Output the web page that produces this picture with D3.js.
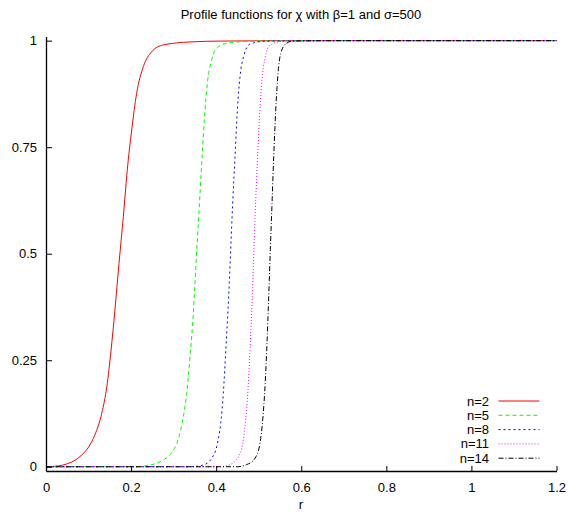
<!DOCTYPE html>
<html>
<head>
<meta charset="utf-8">
<script src="https://cdn.jsdelivr.net/npm/d3@7"></script>
<style>
  html, body { margin: 0; padding: 0; background: #fff; }
  svg { display: block; }
  text { font-family: "Liberation Sans", Arial, Helvetica, sans-serif; font-size: 13px; fill: #000; }
</style>
</head>
<body>
<svg id="chart" width="571" height="512"></svg>
<script>
// ---- data ----
const title = "Profile functions for \u03c7 with \u03b2=1 and \u03c3=500";
const xLabel = "r";
const xTicks = [0, 0.2, 0.4, 0.6, 0.8, 1, 1.2];
const yTicks = [0, 0.25, 0.5, 0.75, 1];
const seriesNames = ["n=2", "n=5", "n=8", "n=11", "n=14"];
const seriesColors = ["#ff0000", "#00ff00", "#0000ff", "#ff00ff", "#000000"];
const seriesDash = ["none", "4,3", "2,3", "1,2", "5,2,1,2"];

const n2 = [[0,0],[0.02,0.001],[0.04,0.004],[0.06,0.011],[0.08,0.024],[0.1,0.046],[0.115,0.075],[0.131,0.125],[0.143,0.188],
  [0.153,0.274],[0.162,0.368],[0.1716,0.477],[0.1818,0.587],[0.191,0.696],[0.2014,0.79],[0.213,0.876],
  [0.2288,0.939],[0.2484,0.974],[0.2758,0.99],[0.3385,0.997],[0.41,0.999],[0.6,1],[1.2,1]];
const n5 = [[0,0],[0.21,0],[0.2445,0.004],[0.2758,0.016],[0.2955,0.033],[0.311,0.065],[0.3228,0.117],
  [0.3307,0.172],[0.3385,0.258],[0.3463,0.36],[0.3526,0.477],[0.359,0.587],[0.366,0.712],[0.3722,0.814],
  [0.3793,0.9],[0.3895,0.955],[0.405,0.986],[0.4325,0.995],[0.495,0.999],[0.65,1],[1.2,1]];
const n8 = [[0,0],[0.34,0],[0.3698,0.004],[0.3895,0.02],[0.4012,0.047],[0.4106,0.102],[0.4168,0.172],
  [0.4231,0.282],[0.4294,0.399],[0.4341,0.509],[0.4388,0.618],[0.4443,0.728],[0.4498,0.837],[0.456,0.915],
  [0.4654,0.966],[0.4795,0.992],[0.518,0.999],[0.65,1],[1.2,1]];
const n11 = [[0,0],[0.41,0],[0.4325,0.005],[0.452,0.023],[0.4624,0.055],[0.4694,0.11],[0.4748,0.18],
  [0.4795,0.274],[0.4843,0.383],[0.4882,0.493],[0.492,0.602],[0.4968,0.712],[0.5015,0.814],[0.507,0.9],
  [0.5148,0.959],[0.5266,0.99],[0.562,0.999],[0.7,1],[1.2,1]];
const n14 = [[0,0],[0.45,0],[0.4718,0.005],[0.4913,0.02],[0.503,0.055],[0.5094,0.11],[0.5148,0.188],
  [0.5195,0.29],[0.5235,0.399],[0.5273,0.509],[0.5313,0.618],[0.5353,0.728],[0.54,0.837],[0.5454,0.923],
  [0.5517,0.97],[0.5642,0.993],[0.58,0.999],[0.7,1],[1.2,1]];
const seriesData = [n2, n5, n8, n11, n14];

// ---- drawing ----
const svg = d3.select("#chart");
const x = d3.scaleLinear().domain([0, 1.2]).range([46, 556.5]);
const y = d3.scaleLinear().domain([-0.01, 1.01]).range([471, 36.4]);

// title
svg.append("text").attr("x", 301).attr("y", 19).attr("text-anchor", "middle").text(title);

// curves
const line = d3.line().x(d => x(d[0])).y(d => y(d[1])).curve(d3.curveMonotoneX);
seriesData.forEach((s, i) => {
  svg.append("path").datum(s)
    .attr("d", line)
    .attr("fill", "none")
    .attr("stroke", seriesColors[i])
    .attr("stroke-width", 1)
    .attr("stroke-dasharray", seriesDash[i]);
});

// axes
const xAxis = d3.axisBottom(x).tickValues(xTicks).tickFormat(d3.format("")).tickSizeInner(-5).tickSizeOuter(0).tickPadding(12);
const yAxis = d3.axisLeft(y).tickValues(yTicks).tickFormat(d3.format("")).tickSizeInner(-6).tickSizeOuter(0).tickPadding(9);

const gx = svg.append("g").attr("transform", `translate(0,${y(-0.01)})`).call(xAxis);
const gy = svg.append("g").attr("transform", `translate(${x(0)},0)`).call(yAxis);
[gx, gy].forEach(g => {
  g.select(".domain").attr("stroke", "#000").attr("stroke-width", 1.3);
  g.selectAll(".tick line").attr("stroke", "#000").attr("stroke-width", 1);
  g.selectAll(".tick text").attr("font-size", 13).attr("font-family", "Liberation Sans, Arial, sans-serif").attr("fill", "#000");
});

// x label
svg.append("text").attr("x", 301).attr("y", 509).attr("text-anchor", "middle").text(xLabel);

// legend
const legY0 = 401, legStep = 14.3;
seriesNames.forEach((name, i) => {
  const ly = legY0 + i * legStep;
  svg.append("text").attr("x", 489).attr("y", ly).attr("dy", "0.35em").attr("text-anchor", "end").text(name);
  svg.append("line").attr("x1", 498.5).attr("x2", 539.5).attr("y1", ly).attr("y2", ly)
    .attr("stroke", seriesColors[i]).attr("stroke-width", 1).attr("stroke-dasharray", seriesDash[i]);
});
</script>
</body>
</html>
